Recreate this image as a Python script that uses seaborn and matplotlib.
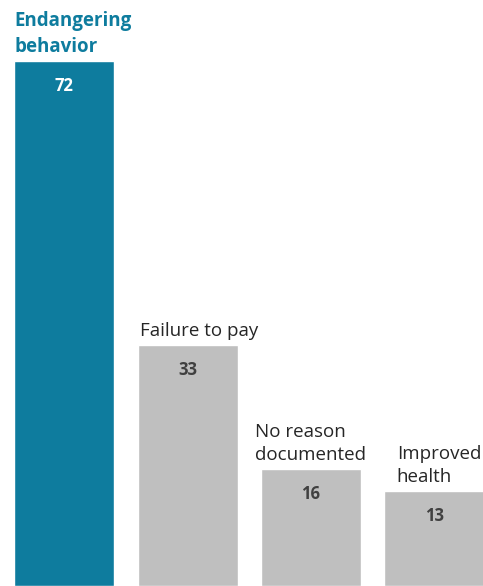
import seaborn as sns
import matplotlib.pyplot as plt
import pandas as pd

# -----------------------------------
# Data
# -----------------------------------
reasons = ["Endangering\nbehavior", "Failure to pay", "No reason\ndocumented", "Improved\nhealth"]
counts = [72, 33, 16, 13]
bar_colors = ["#0E7C9E", "#BFBFBF", "#BFBFBF", "#BFBFBF"]
value_colors = ["white", "#404040", "#404040", "#404040"]
label_nudge = [0, 2, -4, 9]  # small horizontal nudges (points) as in original

df = pd.DataFrame({"reason": reasons, "count": counts})

sns.set_style("white")
plt.rcParams["font.family"] = ["Open Sans", "DejaVu Sans"]

# -----------------------------------
# Figure
# -----------------------------------
fig = plt.figure(figsize=(4.83, 5.86), dpi=100)
ax = fig.add_axes([0, 0, 1, 1])

bar_w = 0.81
sns.barplot(
    data=df,
    x="reason",
    y="count",
    hue="reason",
    palette=bar_colors,
    legend=False,
    width=bar_w,
    saturation=1,
    ax=ax,
)

ax.set_xlim(-0.522, 3.396)
ax.set_ylim(0, 80.4)
ax.axis("off")

# -----------------------------------
# Labels
# -----------------------------------
for i, (name, val) in enumerate(zip(reasons, counts)):
    first = i == 0
    ax.annotate(
        name,
        xy=(i - bar_w / 2, val),
        xytext=(label_nudge[i], 6.5),
        textcoords="offset points",
        ha="left",
        va="baseline",
        fontsize=13.5,
        fontweight="bold" if first else "normal",
        color=bar_colors[0] if first else "#262626",
        linespacing=1.4,
    )
    ax.annotate(
        str(val),
        xy=(i, val),
        xytext=(0, -17.5),
        textcoords="offset points",
        ha="center",
        va="center",
        fontsize=12,
        fontweight="bold",
        color=value_colors[i],
    )

plt.savefig("out.png", dpi=100)
